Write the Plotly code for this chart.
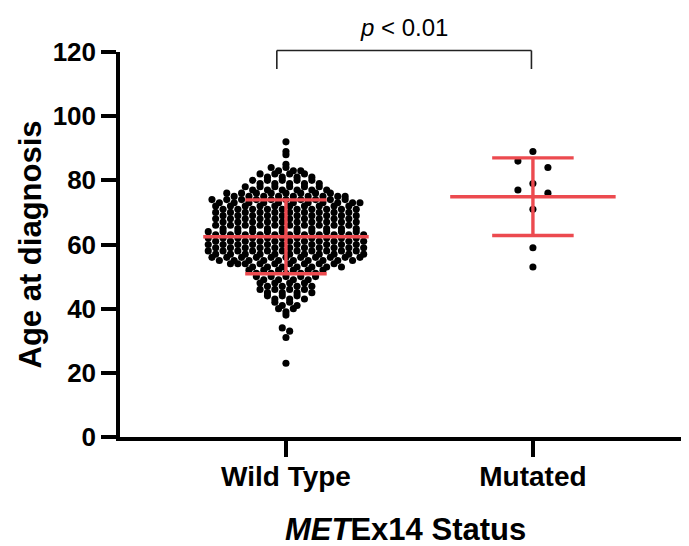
import math
import plotly.graph_objects as go

# ---------------- data ----------------
categories = ["Wild Type", "Mutated"]

# Wild type: age at diagnosis (integer ages) and how many patients at each age
wt_age_values = [38, 39, 40, 41, 42, 43, 44, 45, 46, 47, 48, 49, 50, 51, 52, 53, 54, 55,
                 56, 57, 58, 59, 60, 61, 62, 63, 64, 65, 66, 67, 68, 69, 70, 71, 72, 73,
                 74, 75, 76, 77, 78, 79, 80, 81, 82, 83, 84, 85]
wt_age_counts = [1, 1, 2, 2, 2, 3, 3, 4, 4, 4, 4, 4, 5, 5, 6, 7, 9, 10,
                 11, 11, 11, 11, 11, 11, 11, 11, 11, 10, 10, 10, 10, 10, 10, 10, 10, 11,
                 10, 9, 8, 6, 6, 5, 5, 4, 4, 3, 2, 1]
wt_extreme_ages = [23, 31, 33, 34, 88, 89, 92]

# Mutated
mut_ages = [89, 86, 84, 79, 77, 76, 71, 59, 53]

# Mean and SD bars
group_mean = [62.4, 74.9]
group_sd = [11.5, 12.1]

p_label = "<i>p</i> < 0.01"

# ---------------- layout geometry ----------------
# The page body adds an 8px margin, so the figure is laid out 8px smaller
OFF = 8
W, H = 689 - OFF, 546 - OFF
M_L, M_R, M_T, M_B = 120 - OFF, 0, 52 - OFF, 109
X_RANGE = [-0.672, 1.632]
Y_RANGE = [0, 120]
plot_w = W - M_L - M_R
plot_h = H - M_T - M_B
xpx = plot_w / (X_RANGE[1] - X_RANGE[0])
ypx = plot_h / (Y_RANGE[1] - Y_RANGE[0])
DOT = 7.1


def row_swarm(vals, bin_h, anchor, spacing_px, interleave):
    """Prism-like scatter: values in the same row bin are spread side by side."""
    rows = {}
    for i, v in enumerate(vals):
        rows.setdefault(math.floor((v - anchor) / bin_h), []).append(i)
    xs = [0.0] * len(vals)
    for idx in rows.values():
        idx = sorted(idx, key=lambda i: -vals[i])
        if interleave and len(idx) > 2:
            half = (len(idx) + 1) // 2
            hi, lo = idx[:half], idx[half:]
            order = []
            for k in range(half):
                order.append(hi[k])
                if k < len(lo):
                    order.append(lo[k])
            idx = order
        n = len(idx)
        for k, i in enumerate(idx):
            xs[i] = (k - (n - 1) / 2) * spacing_px / xpx
    return xs


wt_ages = []
for a, n in zip(wt_age_values, wt_age_counts):
    wt_ages += [a] * n
wt_ages += wt_extreme_ages

groups = [wt_ages, mut_ages]
swarm_opts = [dict(bin_h=2, anchor=1, spacing_px=7.4, interleave=True),
              dict(bin_h=3, anchor=84, spacing_px=30, interleave=False)]

fig = go.Figure()

for gi, vals in enumerate(groups):
    offs = row_swarm(vals, **swarm_opts[gi])
    fig.add_trace(go.Scatter(
        x=[gi + o for o in offs], y=vals, mode="markers",
        marker=dict(color="black", size=DOT, line=dict(width=0)),
        showlegend=False, hoverinfo="y"))

RED = "#EC4A4F"
for gi in range(2):
    m, s = group_mean[gi], group_sd[gi]
    xs = [gi - 0.335, gi + 0.335, None,
          gi - 0.165, gi + 0.165, None,
          gi - 0.165, gi + 0.165, None,
          gi, gi]
    ys = [m, m, None,
          m + s, m + s, None,
          m - s, m - s, None,
          m - s, m + s]
    fig.add_trace(go.Scatter(x=xs, y=ys, mode="lines",
                             line=dict(color=RED, width=3.4),
                             showlegend=False, hoverinfo="skip"))

FONT = "Liberation Sans, Arial, sans-serif"


def py(page_y):
    """page pixel y -> paper coordinate"""
    fy = page_y - OFF
    return 1 - (fy - M_T) / plot_h


# significance bracket
y_top, y_bot = py(50.5), py(69)
for shp in [dict(x0=-0.037, x1=0.994, y0=y_top, y1=y_top),
            dict(x0=-0.037, x1=-0.037, y0=y_top, y1=y_bot),
            dict(x0=0.994, x1=0.994, y0=y_top, y1=y_bot)]:
    fig.add_shape(type="line", xref="x", yref="paper",
                  line=dict(color="#222222", width=1.6), **shp)

fig.add_annotation(text=p_label, x=0.478, xref="x", y=py(28),
                   yref="paper", showarrow=False, xanchor="center", yanchor="middle",
                   font=dict(family=FONT, size=24, color="black"))

fig.add_annotation(text="Age at diagnosis", x=0, xref="paper",
                   xshift=(30 - OFF) - M_L, xanchor="center",
                   y=0.5, yref="paper", yanchor="middle", textangle=-90,
                   showarrow=False,
                   font=dict(family=FONT, size=31, color="black", weight="bold"))

fig.add_annotation(text="<i>MET</i>Ex14 Status", x=0.486, xref="x",
                   y=py(529), yref="paper",
                   xanchor="center", yanchor="middle", showarrow=False,
                   font=dict(family=FONT, size=31, color="black", weight="bold"))

fig.update_layout(
    width=W, height=H,
    margin=dict(l=M_L, r=M_R, t=M_T, b=M_B, pad=0),
    paper_bgcolor="white", plot_bgcolor="white",
    xaxis=dict(range=X_RANGE, tickvals=[0, 1], ticktext=categories,
               showline=True, linewidth=3.5, linecolor="black",
               ticks="outside", ticklen=16, tickwidth=3.5, tickcolor="black",
               ticklabelstandoff=-4,
               showgrid=False, zeroline=False,
               tickfont=dict(family=FONT, size=28, color="black", weight="bold")),
    yaxis=dict(range=Y_RANGE, tickvals=[0, 20, 40, 60, 80, 100, 120],
               showline=True, linewidth=3.5, linecolor="black",
               ticks="outside", ticklen=15, tickwidth=3.5, tickcolor="black",
               showgrid=False, zeroline=False,
               tickfont=dict(family=FONT, size=26, color="black", weight="bold")),
)

fig.write_html("out.html")
